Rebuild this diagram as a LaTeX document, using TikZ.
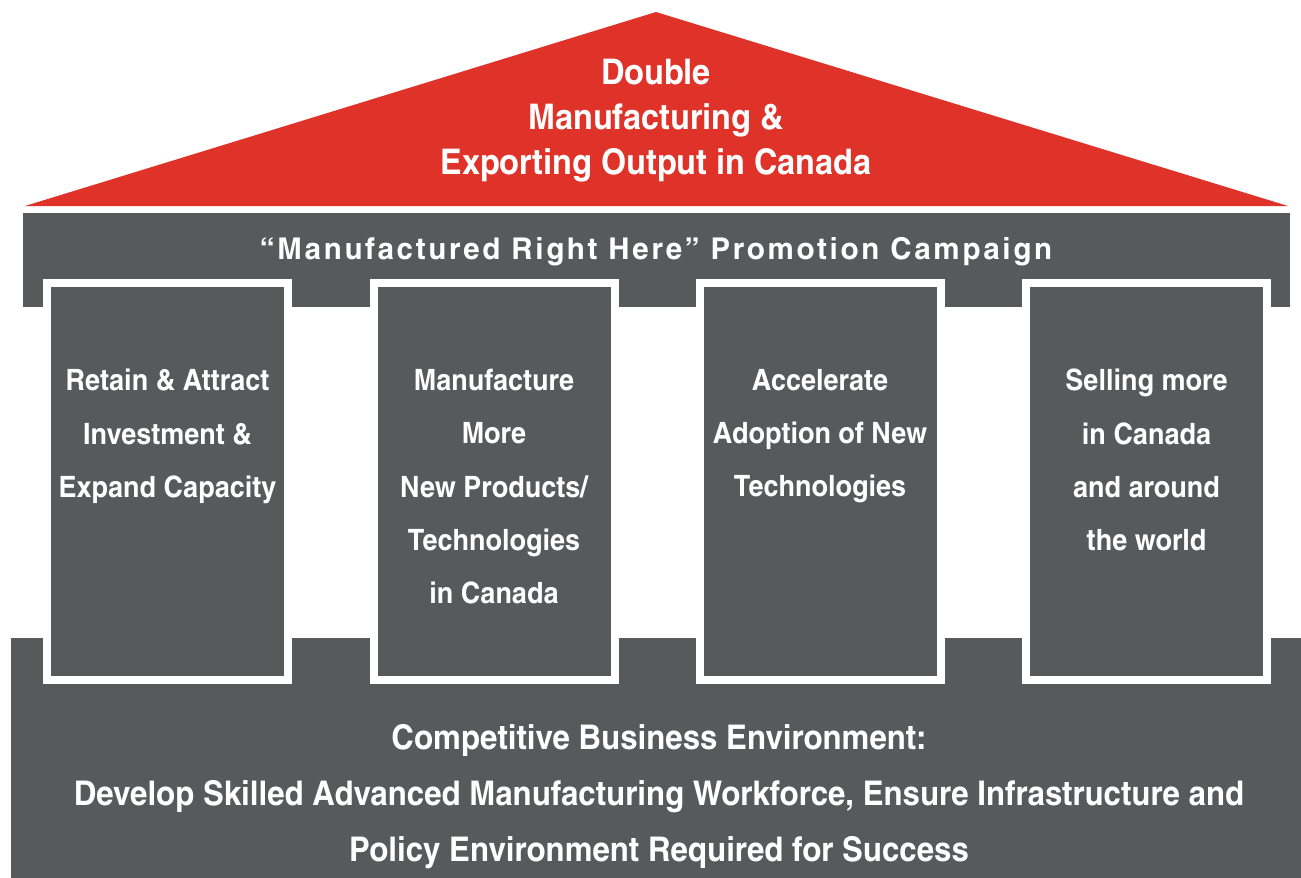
\documentclass[tikz,border=0pt]{standalone}
\usepackage{fontspec}
\setmainfont{texgyreheroscn-bold}[Extension=.otf, FakeStretch=1.12]
\newfontfamily\trackedfont{texgyreheroscn-bold}[Extension=.otf, FakeStretch=1.2, LetterSpace=9]
\usetikzlibrary{positioning}
\definecolor{roofred}{HTML}{DF3228}
\definecolor{housegray}{HTML}{58595B}

\begin{document}
\begin{tikzpicture}[x=1pt, y=-1pt,
    pillar/.style={rectangle, fill=housegray, draw=white, line width=8pt, inner sep=0pt,
    minimum width=241pt, minimum height=397pt},
    caption/.style={text=white, align=center, inner sep=0pt},
    pillartext/.style={caption, anchor=north, font=\fontsize{29.4}{53.3}\selectfont}]
    \useasboundingbox (0,0) rectangle (1301,878);

    % beam and base
    \fill [housegray] (23,213) rectangle (1290,307);
    \fill [housegray] (11,638) rectangle (1301,878);

    % the four pillars
    \foreach \i/\x in {1/167.5, 2/494, 3/820, 4/1146.5}
        \node (pillar\i) [pillar] at (\x,481.5) {};

    \node (text1) [pillartext, below=90pt of pillar1.north] {Retain \& Attract\\ Investment \&\\ Expand Capacity};
    \node (text2) [pillartext, below=90pt of pillar2.north] {Manufacture\\ More\\ New Products/\\ Technologies\\ in Canada};
    \node (text3) [pillartext, below=90pt of pillar3.north] {Accelerate\\ Adoption of New\\ Technologies};
    \node (text4) [pillartext, below=90pt of pillar4.north] {Selling more\\ in Canada\\ and around\\ the world};

    % roof
    \coordinate (eaveL) at (25,206);
    \coordinate (apex) at (656,12);
    \coordinate (eaveR) at (1288,206);
    \fill [roofred] (eaveL) -- (apex) -- (eaveR) -- cycle;

    \node (goal) [caption, anchor=north, font=\fontsize{35.3}{45}\selectfont] at (656,59)
        {Double\\ Manufacturing \&\\ Exporting Output in Canada};
    \node (campaign) [caption, anchor=base, font=\fontsize{30}{34}\trackedfont] at (656,259)
        {“Manufactured Right Here” Promotion Campaign};
    \node (environment) [caption, anchor=north, font=\fontsize{34}{56}\selectfont] at (659,724)
        {Competitive Business Environment:\\ Develop Skilled Advanced Manufacturing Workforce, Ensure Infrastructure and\\ Policy Environment Required for Success};
\end{tikzpicture}
\end{document}
